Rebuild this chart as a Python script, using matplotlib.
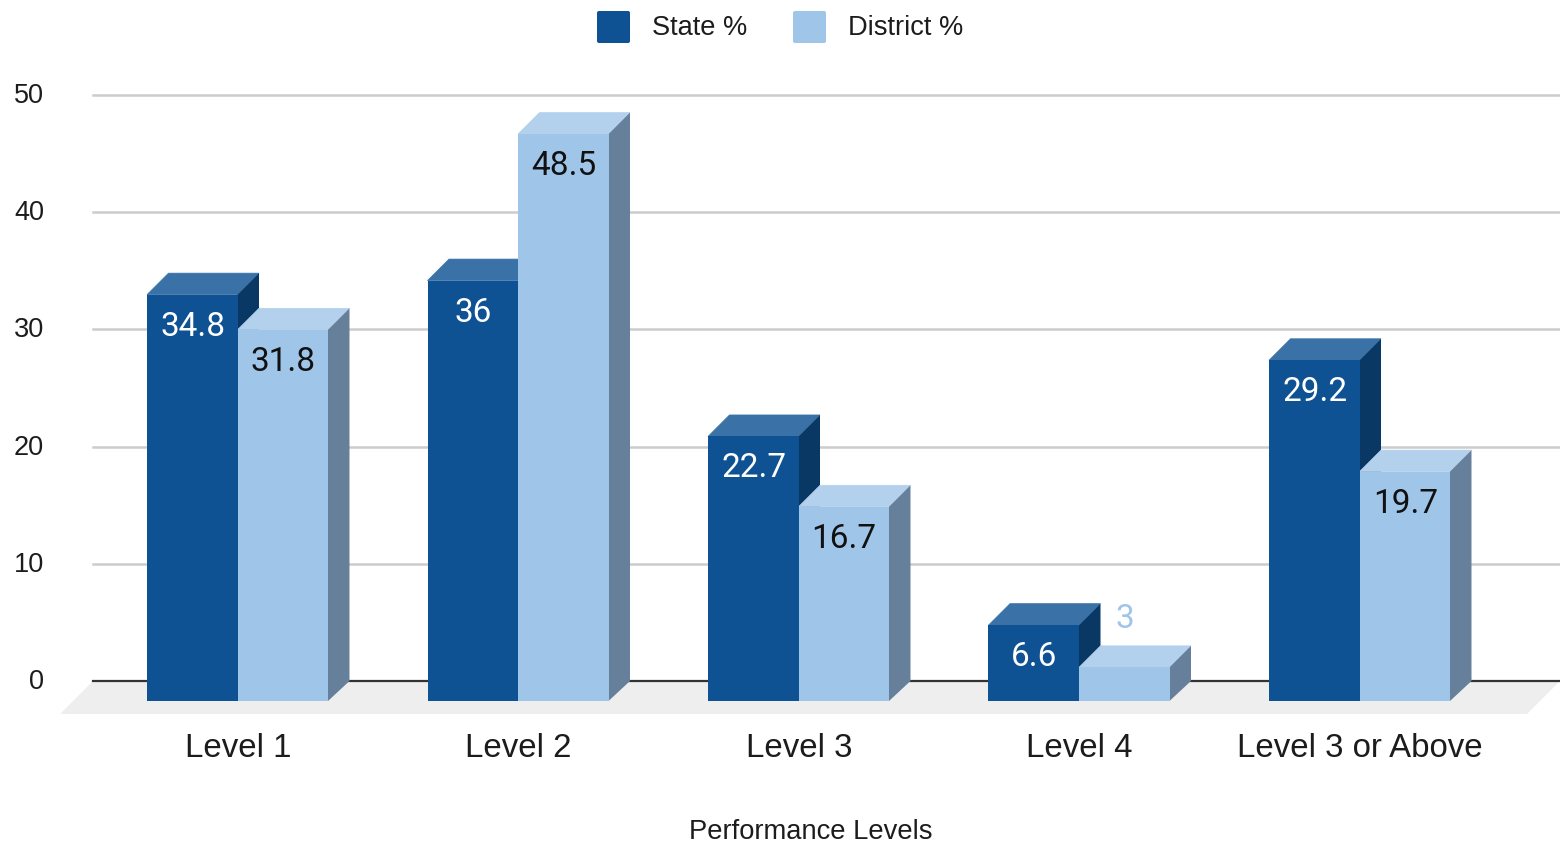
import numpy as np
import matplotlib
matplotlib.use('Agg')
import matplotlib.pyplot as plt
from matplotlib.patches import Polygon, FancyBboxPatch

# data
levels = ['Level 1', 'Level 2', 'Level 3', 'Level 4', 'Level 3 or Above']
state = [34.8, 36, 22.7, 6.6, 29.2]
district = [31.8, 48.5, 16.7, 3, 19.7]
yticks = [0, 10, 20, 30, 40, 50]

W, H = 1560, 844
fig = plt.figure(figsize=(W / 100, H / 100), dpi=100)
y0, y50 = 681, 95
ax = fig.add_axes([93 / W, 1 - y0 / H, (W - 93) / W, (y0 - y50) / H])

# one category = 280.5 px, one y unit = 11.72 px
ppx = 280.5
ppy = (y0 - y50) / 50
ax.set_xlim((93 - 238) / ppx, (W - 238) / ppx)
ax.set_ylim(0, 50)
ax.axis('off')

dx = 21.5 / ppx   # depth of the fake 3d bars
dy = 20 / ppy     # bottom of the front face below the axis line
dtop = 21.5 / ppy # front top edge below the value
bw = 90.5 / ppx
nudge = -0.5 / ppx
txt = '#1c1c1c'

# gridlines
for t in yticks[1:]:
    ax.plot(ax.get_xlim(), [t, t], color='#cccccc', lw=1.8, zorder=1, clip_on=False)
for t in yticks:
    ax.text((44 - 238) / ppx, t - 1 / ppy, str(t), fontsize=19.5, family='Liberation Sans', color=txt,
            ha='right', va='center')

# floor
xl, xr = ax.get_xlim()
floor = Polygon([(xl, 0), (xr, 0), (xr - 33 / ppx, -33 / ppy), (xl - 33 / ppx, -33 / ppy)],
                closed=True, fc='#eeeeee', ec='none', zorder=1, clip_on=False)
ax.add_patch(floor)
ax.plot([xl, xr], [0, 0], color='#333333', lw=1.6, zorder=2, clip_on=False)


def bar3d(left, val, front, top, side):
    # val is where the back edge of the bar sits, front face is shifted down-left
    x0, x1 = left, left + bw
    lo, hi = -dy, val - dtop
    ax.add_patch(Polygon([(x0, lo), (x1, lo), (x1, hi), (x0, hi)], fc=front, ec='none', zorder=4, clip_on=False))
    ax.add_patch(Polygon([(x0, hi), (x1, hi), (x1 + dx, val), (x0 + dx, val)], fc=top, ec=top, lw=0.5, zorder=3, clip_on=False))
    ax.add_patch(Polygon([(x1, lo), (x1 + dx, lo + dy), (x1 + dx, val), (x1, hi)], fc=side, ec='none', zorder=3, clip_on=False))


for i in range(len(levels)):
    bar3d(i - bw + nudge, state[i], '#0f5294', '#3a72a8', '#0a3864')
    bar3d(i + nudge, district[i], '#9fc5e8', '#b3d1ed', '#66809b')
    ax.text(i - bw / 2, state[i] - dtop - 32 / ppy, str(state[i]), color='white', fontsize=24,
            family='Roboto', ha='center', va='center', zorder=6)
    if district[i] > 5:
        ax.text(i + bw / 2, district[i] - dtop - 32 / ppy, str(district[i]), color='#111111', fontsize=24,
                family='Roboto', ha='center', va='center', zorder=6)
    else:
        ax.text(i + bw / 2, district[i] + 27 / ppy, str(district[i]), color='#9fc5e8', fontsize=24,
                family='Roboto', ha='center', va='center', zorder=6)
    ax.text(i, -67.5 / ppy, levels[i], fontsize=23.8, family='Liberation Sans', color=txt,
            ha='center', va='center', clip_on=False)

fig.text(811 / W, 1 - 832 / H, 'Performance Levels', fontsize=19.7, family='Liberation Sans', color=txt,
         ha='center', va='center')

# legend
leg = fig.add_axes([0, 0, 1, 1])
leg.set_xlim(0, W)
leg.set_ylim(H, 0)
leg.axis('off')
leg.patch.set_alpha(0)
leg.add_patch(FancyBboxPatch((598, 12), 31, 30, boxstyle='round,pad=1,rounding_size=2', fc='#0f5294', ec='none'))
leg.add_patch(FancyBboxPatch((794, 12), 31, 30, boxstyle='round,pad=1,rounding_size=2', fc='#9fc5e8', ec='none'))
leg.text(652, 28, 'State %', fontsize=19.6, family='Liberation Sans', color=txt, va='center')
leg.text(848, 28, 'District %', fontsize=19.6, family='Liberation Sans', color=txt, va='center')

fig.savefig('out.png', dpi=100)
